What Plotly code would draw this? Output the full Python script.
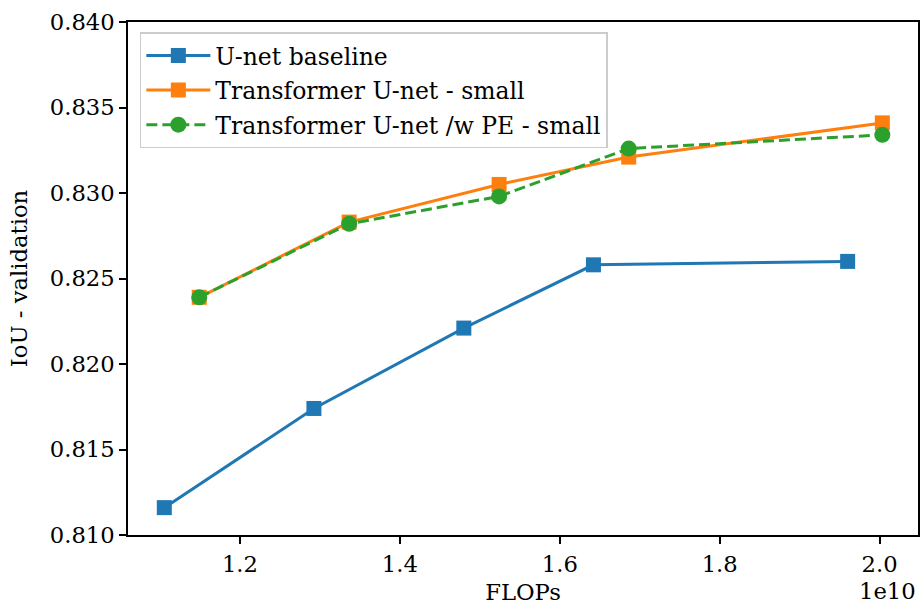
import plotly.graph_objects as go

# FLOPs in units of 1e10
unet_flops = [1.1054, 1.2925, 1.4800, 1.6421, 1.9600]
unet_iou = [0.8116, 0.8174, 0.8221, 0.8258, 0.8260]

tr_flops = [1.1491, 1.3366, 1.5241, 1.6862, 2.0034]
tr_iou = [0.8239, 0.8283, 0.8305, 0.8321, 0.8341]

pe_flops = [1.1491, 1.3366, 1.5241, 1.6862, 2.0034]
pe_iou = [0.8239, 0.8282, 0.8298, 0.8326, 0.8334]

x_ticks = [1.2, 1.4, 1.6, 1.8, 2.0]
x_ticklabels = ["1.2", "1.4", "1.6", "1.8", "2.0"]
y_ticks = [0.810, 0.815, 0.820, 0.825, 0.830, 0.835, 0.840]
y_ticklabels = ["0.810", "0.815", "0.820", "0.825", "0.830", "0.835", "0.840"]

FONT = "DejaVu Serif"
FS = 22.7
LFS = 23.5

fig = go.Figure()
fig.add_trace(go.Scatter(
    x=unet_flops, y=unet_iou, name="U-net baseline", mode="lines+markers",
    legendgroup="a",
    line=dict(color="#1f77b4", width=3),
    marker=dict(symbol="square", size=15, color="#1f77b4")))
fig.add_trace(go.Scatter(
    x=tr_flops, y=tr_iou, name="Transformer U-net - small", mode="lines+markers",
    legendgroup="b",
    line=dict(color="#ff7f0e", width=3),
    marker=dict(symbol="square", size=15, color="#ff7f0e")))
fig.add_trace(go.Scatter(
    x=pe_flops, y=pe_iou, name="Transformer U-net /w PE - small", mode="lines+markers",
    legendgroup="c",
    line=dict(color="#2ca02c", width=3, dash="11px,5px"),
    marker=dict(symbol="circle", size=16, color="#2ca02c")))

axis_common = dict(
    showline=True, linecolor="black", linewidth=1.5, mirror=True,
    ticks="outside", ticklen=7, tickwidth=1.5, tickcolor="black",
    showgrid=False, zeroline=False, automargin=False,
    tickfont=dict(family=FONT, size=FS, color="black"),
)

fig.update_xaxes(range=[1.06, 2.048], tickvals=x_ticks, ticktext=x_ticklabels,
                 ticklabelstandoff=1,
                 title=dict(text="FLOPs", font=dict(family=FONT, size=FS, color="black"), standoff=14),
                 **axis_common)
fig.update_yaxes(range=[0.810, 0.840], tickvals=y_ticks, ticktext=y_ticklabels,
                 title=dict(text="IoU - validation", font=dict(family=FONT, size=FS, color="black"), standoff=16),
                 **axis_common)

fig.add_annotation(text="1e10", xref="paper", yref="paper", x=1.0, y=-0.109,
                   xanchor="right", yanchor="middle", showarrow=False,
                   font=dict(family=FONT, size=FS, color="black"))

fig.update_layout(
    width=920, height=605,
    margin=dict(l=128, r=2, t=22, b=70),
    paper_bgcolor="white", plot_bgcolor="white",
    font=dict(family=FONT, size=FS, color="black"),
    legend=dict(x=0.015, y=0.98, xanchor="left", yanchor="top",
                bgcolor="rgba(255,255,255,0.8)", bordercolor="#cccccc", borderwidth=1.5,
                font=dict(family=FONT, size=LFS, color="black"), itemwidth=64,
                tracegroupgap=1),
    showlegend=True,
)

fig.write_html("out.html", config={"displayModeBar": False},
               post_script="document.body.style.margin='0';")
